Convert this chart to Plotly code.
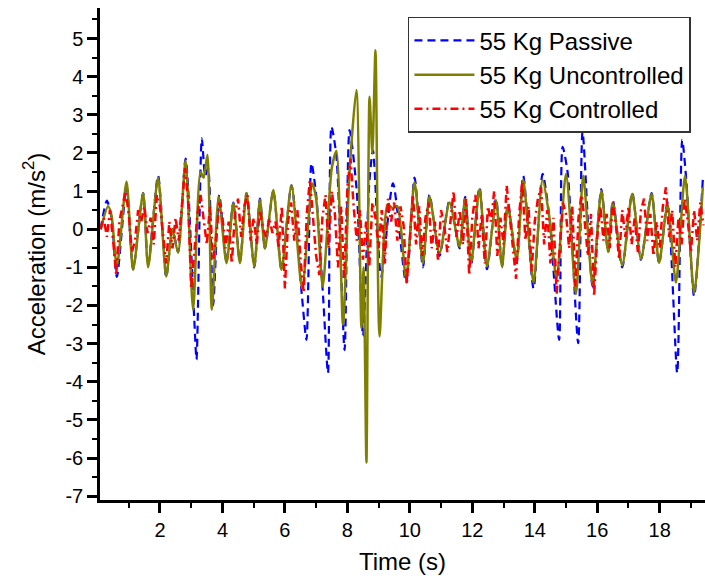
import numpy as np
import plotly.graph_objects as go

# ---- Data ----
# 55 Kg Uncontrolled (olive, solid): turning points (time s, accel m/s^2)
unc_t = [0.10, 0.34, 0.45, 0.62, 0.93, 1.14, 1.46, 1.62, 1.94, 2.20, 2.40, 2.58, 2.82,
         3.06, 3.30, 3.40, 3.52, 3.66, 3.88, 4.13, 4.35, 4.56, 4.77, 5.02, 5.20, 5.36,
         5.63, 5.89, 6.21, 6.55, 6.88, 7.00, 7.21, 7.50, 7.65, 7.86, 8.07, 8.29, 8.45,
         8.52, 8.61, 8.71, 8.80, 8.90, 9.03, 9.29, 9.45, 9.60, 9.88, 10.15, 10.42, 10.63,
         10.95, 11.27, 11.59, 11.77, 11.96, 12.23, 12.47, 12.76, 12.95, 13.14, 13.42,
         13.63, 13.96, 14.25, 14.47, 14.70, 15.00, 15.32, 15.55, 15.85, 16.13, 16.35,
         16.50, 16.80, 17.12, 17.40, 17.74, 17.98, 18.25, 18.52, 18.81, 19.10, 19.38]
unc_y = [0.0, 0.6, 0.35, -0.97, 1.25, -1.07, 0.95, -1.0, 1.35, -1.24, 0.0, -0.62, 1.8,
         -2.11, 1.5, 1.35, 1.95, -2.11, 0.85, -0.89, 0.68, -0.89, 0.95, -0.98, 0.77, -0.5,
         1.03, -1.07, 1.15, -1.55, 1.2, 0.8, -1.5, 1.6, 2.05, -2.5, 1.5, 3.65, -2.6,
         -1.0, -6.12, 3.47, 2.0, 4.69, -2.81, 0.65, 0.55, 0.6, -1.3, 1.24, -0.89, 0.86,
         -0.63, 0.7, -0.45, 0.79, -0.89, 1.05, -0.98, 0.75, -0.98, 0.6, -0.8,
         1.3, -1.4, 1.3, 0.3, -1.3, 1.45, -1.7, 1.4, -1.45, 1.0, -0.6,
         0.7, -0.95, 0.93, -0.78, 0.92, -0.88, 0.65, -1.4, 1.4, -1.68, 1.1]

# 55 Kg Passive (blue, dashed): turning points
pas_t = [0.10, 0.30, 0.45, 0.62, 0.93, 1.14, 1.46, 1.62, 1.94, 2.20, 2.40, 2.58, 2.82,
         3.10, 3.17, 3.34, 3.45, 3.54, 3.70, 3.90, 4.13, 4.35, 4.56, 4.77, 5.02, 5.20,
         5.36, 5.63, 5.89, 6.21, 6.55, 6.69, 6.85, 7.00, 7.21, 7.38, 7.49, 7.65, 7.91,
         8.07, 8.30, 8.50, 8.70, 8.82, 9.08, 9.46, 9.88, 10.15, 10.42, 10.63, 10.95,
         11.27, 11.59, 11.77, 11.96, 12.23, 12.47, 12.76, 12.95, 13.14, 13.42, 13.63,
         13.96, 14.25, 14.47, 14.78, 14.89, 15.05, 15.39, 15.53, 15.85, 16.13, 16.35,
         16.50, 16.80, 17.12, 17.40, 17.74, 17.98, 18.25, 18.56, 18.72, 18.85, 19.10, 19.38]
pas_y = [0.0, 0.75, 0.3, -1.25, 1.1, -1.05, 0.95, -0.95, 1.4, -1.25, 0.0, -0.6, 1.85,
         -2.4, -3.42, 2.38, 1.4, 1.6, -2.0, 0.9, -0.85, 0.7, -0.85, 0.95, -1.0, 0.8,
         -0.5, 1.0, -1.05, 1.15, -1.8, -2.9, 1.73, 0.9, -1.6, -3.77, 2.69, 1.9, -3.17,
         2.6, 1.0, -2.8, 1.2, 2.07, -1.24, 1.2, -1.4, 1.35, -1.0, 0.9, -0.7,
         0.75, -0.5, 0.85, -0.95, 1.1, -1.05, 0.8, -1.0, 0.65, -0.85, 1.4,
         -1.55, 1.45, 0.3, -2.9, 2.16, 1.5, -2.99, 2.55, -1.5, 1.05, -0.6,
         0.75, -1.0, 0.95, -0.8, 0.95, -0.9, 0.7, -3.77, 2.34, 1.3, -1.75, 1.3]

# 55 Kg Controlled (red, dash-dot): sampled every 0.1 s from 0.1 s
con_y = [0.0, 0.3, -0.2, 0.5, -0.3, -1.2, 0.2, 0.6, 1.0, 0.4,
         -0.6, -0.3, 0.5, 0.2, 0.6, -0.1, 0.3, -0.4, 0.9, 0.6,
         -0.2, -0.9, 0.2, -0.5, 0.3, -0.3, 0.6, 1.6, 0.8, -1.55,
         -0.6, 0.4, 0.9, 0.2, -0.4, 0.6, -0.8, -0.2, 0.7, 0.3,
         -0.5, 0.2, -0.9, 0.4, 0.8, -0.2, 0.6, 0.9, -0.3, 0.3,
         -0.4, 0.5, 0.0, -0.2, 0.3, -0.1, 0.2, -0.5, 0.6, -1.55,
         0.2, 0.7, -0.3, 0.5, -0.8, -1.65, 0.4, 1.3, 0.2, -0.7,
         -1.2, 0.3, 0.9, -0.5, 1.0, 0.4, -1.0, 0.6, -1.3, 1.1,
         1.85, 0.6, -0.3, 0.5, -0.8, 0.2, -1.0, 0.7, 0.3, -0.5,
         0.5, -0.9, 0.8, 0.2, 0.7, -0.3, 0.6, 0.1, -1.45, -0.2,
         0.9, -0.4, 0.6, -0.7, 0.3, 0.7, -0.5, 0.2, -0.8, 0.5,
         0.1, -0.6, 0.3, 1.0, -0.2, 0.5, -0.4, 0.8, -1.2, 0.3,
         0.9, -0.5, 0.4, -0.9, 0.6, 0.2, 1.0, -0.7, 0.3, -0.4,
         1.15, 0.3, -0.6, -1.3, 0.4, 1.25, -0.3, 0.6, -1.1, 0.2,
         0.8, 1.1, -0.4, 0.5, -0.9, 0.3, -1.7, -0.6, 0.7, 0.4,
         -0.5, 0.6, -1.5, 0.3, 0.9, 0.2, -0.7, 0.4, -1.75, -0.2,
         0.6, -0.3, 0.4, -0.5, 0.7, 0.1, -0.8, 0.5, -0.2, 0.6,
         -0.4, 0.3, -0.6, 0.5, 0.8, -0.3, 0.4, -0.7, 0.2, -0.5,
         0.6, 1.1, -0.2, 0.5, -1.0, 0.3, -0.4, 0.8, 0.2, -0.6,
         0.5, -0.3, 0.7, 0.1]
con_t = np.round(0.1 + 0.1 * np.arange(len(con_y)), 2)

series_names = ["55 Kg Passive", "55 Kg Uncontrolled", "55 Kg Controlled"]
x_ticks = [2, 4, 6, 8, 10, 12, 14, 16, 18]
y_ticks = [5, 4, 3, 2, 1, 0, -1, -2, -3, -4, -5, -6, -7]

FONT = "Arial, Liberation Sans, sans-serif"

fig = go.Figure()
fig.add_trace(go.Scatter(x=pas_t, y=pas_y, mode="lines", name=series_names[0],
                         line=dict(color="#0000FF", width=2.2, dash="8px,5px",
                                   shape="spline", smoothing=0.7)))
fig.add_trace(go.Scatter(x=unc_t, y=unc_y, mode="lines", name=series_names[1],
                         line=dict(color="#808000", width=2.5,
                                   shape="spline", smoothing=0.7)))
fig.add_trace(go.Scatter(x=con_t, y=con_y, mode="lines", name=series_names[2],
                         line=dict(color="#FF0000", width=2.5, dash="8px,4px,2px,4px")))

axis_common = dict(showline=True, linecolor="black", linewidth=2.5, mirror=False,
                   showgrid=False, zeroline=False, ticks="outside", ticklen=10,
                   tickwidth=2.5, tickcolor="black",
                   tickfont=dict(family=FONT, size=20, color="black"))

fig.update_xaxes(range=[0.08, 19.45], tickmode="array", tickvals=x_ticks,
                 ticktext=[str(v) for v in x_ticks],
                 minor=dict(dtick=1, tick0=0, ticks="outside", ticklen=5,
                            tickwidth=2, tickcolor="black"),
                 title=dict(text="Time (s)", font=dict(family=FONT, size=24, color="black"),
                            standoff=14),
                 **axis_common)
fig.update_yaxes(range=[-7.1, 5.8], tickmode="array", tickvals=y_ticks,
                 ticktext=[str(v) for v in y_ticks],
                 minor=dict(dtick=0.5, tick0=0, ticks="outside", ticklen=5,
                            tickwidth=2, tickcolor="black"),
                 title=dict(text="Acceleration (m/s<sup>2</sup>)",
                            font=dict(family=FONT, size=24, color="black"), standoff=14),
                 **axis_common)

fig.update_layout(
    width=705, height=582,
    margin=dict(l=100, r=0, t=8, b=82),
    plot_bgcolor="white", paper_bgcolor="white",
    font=dict(family=FONT, color="black"),
    legend=dict(x=0.509, y=0.982, xanchor="left", yanchor="top",
                bgcolor="white", bordercolor="#333333", borderwidth=1.5,
                font=dict(family=FONT, size=24, color="black"),
                itemwidth=60, tracegroupgap=0),
)

fig.write_html("out.html")
